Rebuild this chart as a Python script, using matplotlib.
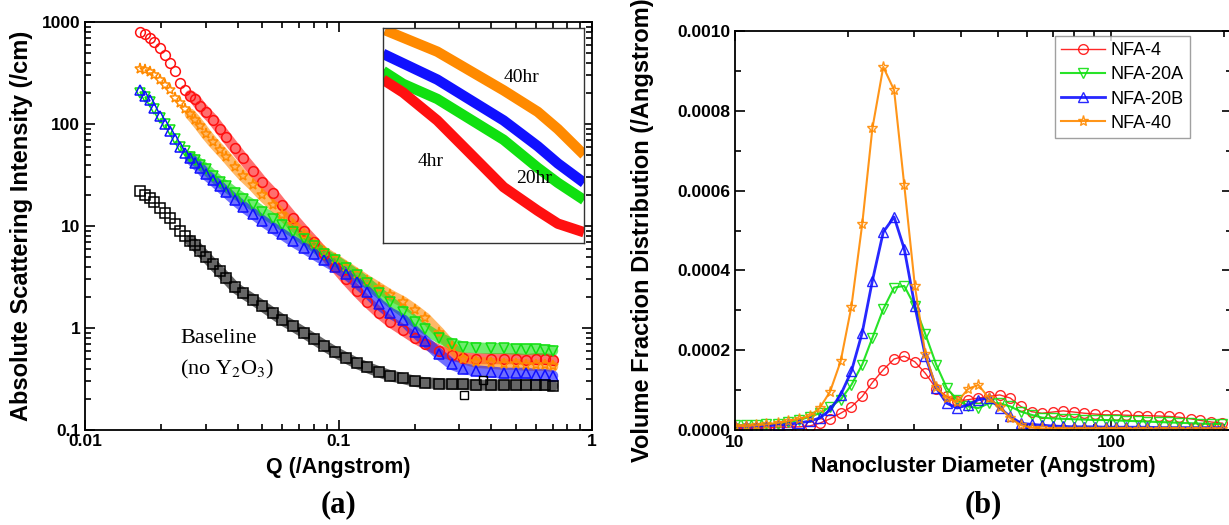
import numpy as np
import matplotlib
matplotlib.use("Agg")
import matplotlib.pyplot as plt
from matplotlib.ticker import FixedLocator, FixedFormatter, MultipleLocator, LogLocator, NullFormatter

plt.rcParams['font.family'] = ['Liberation Sans', 'DejaVu Sans']
plt.rcParams['mathtext.fontset'] = 'stix'

# ---------------- (a) SANS intensity vs Q ----------------
q_grid = [0.0165, 0.0172, 0.018, 0.0188, 0.0197, 0.0206, 0.0216, 0.0226, 0.0237, 0.0248,
          0.026, 0.0272, 0.0285, 0.030, 0.032, 0.034, 0.036, 0.039, 0.042, 0.046,
          0.050, 0.055, 0.060, 0.066, 0.073, 0.080, 0.088, 0.097, 0.107, 0.118,
          0.13, 0.145, 0.16, 0.18, 0.20, 0.22, 0.25, 0.28, 0.31, 0.35,
          0.40, 0.45, 0.50, 0.55, 0.60, 0.65, 0.70]

i_nfa4 = [800, 760, 700, 640, 560, 470, 400, 330, 250, 215,
          190, 175, 150, 130, 110, 90, 75, 58, 46, 35,
          27, 21, 16, 12, 9.0, 7.0, 5.3, 4.0, 3.0, 2.3,
          1.8, 1.4, 1.15, 0.95, 0.8, 0.7, 0.6, 0.54, 0.51, 0.50,
          0.50, 0.50, 0.50, 0.49, 0.50, 0.50, 0.49]
i_nfa40 = [350, 340, 320, 300, 270, 240, 215, 180, 160, 140,
           125, 110, 95, 80, 66, 56, 48, 38, 31, 25,
           20, 16, 12.8, 10.2, 8.2, 6.6, 5.5, 4.7, 4.0, 3.4,
           2.9, 2.45, 2.1, 1.8, 1.5, 1.25, 0.9, 0.65, 0.50, 0.46,
           0.45, 0.44, 0.44, 0.43, 0.43, 0.43, 0.42]
i_nfa20a = [200, 185, 165, 140, 115, 100, 88, 72, 60, 54,
            48, 44, 40, 36, 31, 27, 24.5, 21, 18.5, 16,
            13.8, 11.8, 10.2, 8.8, 7.4, 6.3, 5.3, 4.6, 3.9, 3.3,
            2.75, 2.2, 1.8, 1.45, 1.15, 0.98, 0.80, 0.70, 0.65, 0.64,
            0.63, 0.63, 0.62, 0.62, 0.62, 0.61, 0.60]
i_nfa20b = [215, 190, 170, 145, 120, 100, 85, 72, 60, 52,
            46, 41, 37, 32, 28, 24.5, 21.5, 18, 15.5, 13.2,
            11.3, 9.6, 8.3, 7.1, 6.1, 5.3, 4.6, 4.0, 3.4, 2.8,
            2.25, 1.7, 1.4, 1.2, 0.92, 0.74, 0.55, 0.44, 0.40, 0.38,
            0.37, 0.36, 0.36, 0.36, 0.35, 0.35, 0.34]
i_base = [22, 20, 19, 17, 15, 13.5, 12, 10.5, 9.0, 8.0,
          7.2, 6.5, 5.7, 5.0, 4.2, 3.6, 3.1, 2.5, 2.2, 1.9,
          1.65, 1.4, 1.2, 1.05, 0.9, 0.78, 0.67, 0.58, 0.51, 0.45,
          0.41, 0.37, 0.34, 0.32, 0.30, 0.29, 0.285, 0.28, 0.28, 0.275,
          0.275, 0.275, 0.275, 0.275, 0.275, 0.275, 0.27]
q_base_outliers = [0.312, 0.37]
i_base_outliers = [0.22, 0.31]

# inset (normalised inset coordinates)
ins_x_40 = [0.01, 0.27, 0.6, 0.77, 0.87, 1.0]
ins_y_40 = [0.99, 0.89, 0.71, 0.61, 0.53, 0.41]
ins_x_20b = [0.0, 0.27, 0.6, 0.77, 0.87, 1.0]
ins_y_20b = [0.88, 0.76, 0.57, 0.45, 0.37, 0.28]
ins_x_20a = [0.0, 0.1, 0.27, 0.6, 0.77, 0.87, 1.0]
ins_y_20a = [0.80, 0.74, 0.67, 0.48, 0.35, 0.28, 0.20]
ins_x_4 = [0.0, 0.1, 0.27, 0.43, 0.6, 0.77, 0.87, 1.0]
ins_y_4 = [0.76, 0.70, 0.57, 0.42, 0.26, 0.15, 0.09, 0.05]

# ---------------- (b) size distribution ----------------
diam = [10.0, 10.7, 11.4, 12.1, 13.0, 13.8, 14.8, 15.8, 16.8, 17.9,
        19.1, 20.4, 21.8, 23.2, 24.8, 26.5, 28.2, 30.1, 32.1, 34.3,
        36.6, 39.0, 41.7, 44.4, 47.4, 50.6, 54.0, 57.6, 61.5, 65.6,
        70.0, 74.7, 79.7, 85.0, 90.7, 96.8, 103, 110, 118, 125,
        134, 143, 152, 163, 173, 185, 198]
# values in units of 1e-4 /Angstrom
vf_nfa4 = [0.05, 0.05, 0.05, 0.06, 0.06, 0.07, 0.08, 0.10, 0.17, 0.28,
           0.42, 0.58, 0.84, 1.19, 1.51, 1.78, 1.85, 1.71, 1.42, 1.04,
           0.84, 0.72, 0.76, 0.80, 0.84, 0.88, 0.80, 0.59, 0.46, 0.42,
           0.45, 0.48, 0.45, 0.42, 0.40, 0.38, 0.38, 0.37, 0.36, 0.36,
           0.35, 0.34, 0.32, 0.28, 0.24, 0.20, 0.17]
vf_nfa20a = [0.12, 0.12, 0.13, 0.14, 0.16, 0.19, 0.25, 0.33, 0.42, 0.58,
             0.76, 1.13, 1.64, 2.31, 3.03, 3.57, 3.61, 3.10, 2.40, 1.64,
             1.05, 0.76, 0.59, 0.55, 0.67, 0.67, 0.59, 0.46, 0.38, 0.31,
             0.29, 0.28, 0.27, 0.26, 0.25, 0.25, 0.24, 0.23, 0.22, 0.21,
             0.20, 0.19, 0.18, 0.17, 0.16, 0.15, 0.15]
vf_nfa20b = [0.10, 0.10, 0.10, 0.11, 0.12, 0.14, 0.18, 0.22, 0.30, 0.50,
             0.88, 1.47, 2.44, 3.74, 4.96, 5.34, 4.54, 3.10, 1.85, 1.05,
             0.67, 0.55, 0.63, 0.76, 0.80, 0.55, 0.34, 0.17, 0.14, 0.12,
             0.10, 0.09, 0.08, 0.08, 0.08, 0.07, 0.07, 0.07, 0.07, 0.07,
             0.06, 0.06, 0.06, 0.06, 0.06, 0.06, 0.06]
vf_nfa40 = [0.10, 0.10, 0.12, 0.14, 0.18, 0.22, 0.28, 0.35, 0.55, 0.96,
            1.72, 3.09, 5.16, 7.56, 9.10, 8.52, 6.14, 3.61, 1.90, 1.07,
            0.80, 0.70, 1.03, 1.13, 0.80, 0.58, 0.30, 0.12, 0.06, 0.04,
            0.03, 0.03, 0.03, 0.03, 0.03, 0.03, 0.03, 0.03, 0.02, 0.02,
            0.02, 0.02, 0.02, 0.02, 0.02, 0.02, 0.02]

RED = '#ff1010'
GREEN = '#10e010'
BLUE = '#1010ff'
ORANGE = '#ff8a00'

W, H = 1229, 525
fig = plt.figure(figsize=(W / 100, H / 100), dpi=100)


def px_axes(x0, y0, x1, y1):
    return fig.add_axes([x0 / W, 1 - y1 / H, (x1 - x0) / W, (y1 - y0) / H])


def style_ticks(ax):
    ax.tick_params(which='both', direction='in', top=True, right=True, width=1.2)
    ax.tick_params(which='major', length=7, labelsize=12.5)
    ax.tick_params(which='minor', length=4)
    for lab in ax.get_xticklabels() + ax.get_yticklabels():
        lab.set_fontweight('bold')
    for sp in ax.spines.values():
        sp.set_linewidth(1.3)


# ---- panel (a)
ax1 = px_axes(85, 22, 592, 430)
ax1.set_xscale('log')
ax1.set_yscale('log')
ax1.set_xlim(0.01, 1)
ax1.set_ylim(0.1, 1000)

series_a = [(i_nfa4, RED, 'o'), (i_nfa40, ORANGE, '*'), (i_nfa20a, GREEN, 'v'),
            (i_nfa20b, BLUE, '^'), (i_base, 'black', 's')]
k = 10
for vals, col, mk in series_a:
    ax1.plot(q_grid[k:], vals[k:], color=col, lw=8, alpha=0.6, solid_capstyle='round')
for vals, col, mk in series_a:
    ax1.plot(q_grid, vals, ls='none', marker=mk, mfc='none', mec=col, ms=8 if mk == '*' else 7,
             mew=1.1)
ax1.plot(q_base_outliers, i_base_outliers, ls='none', marker='s', mfc='none', mec='black', ms=6)

ax1.xaxis.set_major_locator(FixedLocator([0.01, 0.1, 1]))
ax1.xaxis.set_major_formatter(FixedFormatter(['0.01', '0.1', '1']))
ax1.xaxis.set_minor_locator(LogLocator(base=10, subs=np.arange(2, 10)))
ax1.xaxis.set_minor_formatter(NullFormatter())
ax1.yaxis.set_major_locator(FixedLocator([0.1, 1, 10, 100, 1000]))
ax1.yaxis.set_major_formatter(FixedFormatter(['0.1', '1', '10', '100', '1000']))
ax1.yaxis.set_minor_locator(LogLocator(base=10, subs=np.arange(2, 10)))
ax1.yaxis.set_minor_formatter(NullFormatter())
style_ticks(ax1)
ax1.tick_params(axis='x', pad=3)
ax1.set_xlabel('Q (/Angstrom)', fontsize=15.5, fontweight='bold')
ax1.set_ylabel('Absolute Scattering Intensity (/cm)', fontsize=17, fontweight='bold')
ax1.xaxis.set_label_coords(0.5, -0.066)
ax1.yaxis.set_label_coords(-0.103, 0.5)

ax1.text(0.188, 0.213, 'Baseline', transform=ax1.transAxes, family='Liberation Serif', fontsize=16)
ax1.text(0.188, 0.135, '(no Y$_2$O$_3$)', transform=ax1.transAxes, family='Liberation Serif',
         fontsize=16)

# inset
axi = px_axes(383, 28, 584, 243)
axi.set_xlim(0, 1)
axi.set_ylim(0, 1)
axi.set_xticks([])
axi.set_yticks([])
for sp in axi.spines.values():
    sp.set_linewidth(1.0)
    sp.set_color('#333333')
for xs, ys, col in [(ins_x_40, ins_y_40, ORANGE), (ins_x_20b, ins_y_20b, BLUE),
                    (ins_x_20a, ins_y_20a, GREEN), (ins_x_4, ins_y_4, RED)]:
    axi.plot(xs, ys, color=col, lw=7.5, solid_capstyle='butt')
axi.text(0.6, 0.75, '40hr', family='Liberation Serif', fontsize=14)
axi.text(0.17, 0.36, '4hr', family='Liberation Serif', fontsize=14)
axi.text(0.66, 0.28, '20hr', family='Liberation Serif', fontsize=14)

# ---- panel (b)
ax2 = px_axes(735, 31, 1232, 430)
ax2.set_xscale('log')
ax2.set_xlim(10, 210)
ax2.set_ylim(0, 0.001)

series_b = [(vf_nfa4, RED, 'o', 'NFA-4', 1.0), (vf_nfa20a, GREEN, 'v', 'NFA-20A', 1.5),
            (vf_nfa20b, BLUE, '^', 'NFA-20B', 2.0), (vf_nfa40, ORANGE, '*', 'NFA-40', 1.5)]
for vals, col, mk, lab, lw in series_b:
    ax2.plot(diam, [v * 1e-4 for v in vals], color=col, lw=lw, marker=mk, mfc='none', mec=col,
             ms=8 if mk == '*' else 7, mew=1.0, label=lab, alpha=0.9)

ax2.xaxis.set_major_locator(FixedLocator([10, 100]))
ax2.xaxis.set_major_formatter(FixedFormatter(['10', '100']))
ax2.xaxis.set_minor_locator(LogLocator(base=10, subs=np.arange(2, 10)))
ax2.xaxis.set_minor_formatter(NullFormatter())
ax2.yaxis.set_major_locator(MultipleLocator(0.0002))
ax2.yaxis.set_minor_locator(MultipleLocator(0.0001))
ax2.yaxis.set_major_formatter(plt.FuncFormatter(lambda v, p: '%.4f' % v))
style_ticks(ax2)
ax2.set_xlabel('Nanocluster Diameter (Angstrom)', fontsize=15.5, fontweight='bold')
ax2.set_ylabel('Volume Fraction Distribution (/Angstrom)', fontsize=17, fontweight='bold')
ax2.xaxis.set_label_coords(0.5, -0.066)
ax2.yaxis.set_label_coords(-0.163, 0.5)

leg = ax2.legend(loc='upper left', bbox_to_anchor=(0.644, 0.988), fontsize=13, frameon=True,
                 fancybox=False, edgecolor='#888888', handlelength=2.4, borderpad=0.35,
                 labelspacing=0.4, handletextpad=0.3, borderaxespad=0)
leg.get_frame().set_linewidth(1.0)

fig.text(338 / W, 1 - 505 / H, '(a)', ha='center', va='center', family='Liberation Serif',
         fontsize=22, fontweight='bold')
fig.text(983 / W, 1 - 505 / H, '(b)', ha='center', va='center', family='Liberation Serif',
         fontsize=22, fontweight='bold')

fig.savefig('out.png', dpi=100)
